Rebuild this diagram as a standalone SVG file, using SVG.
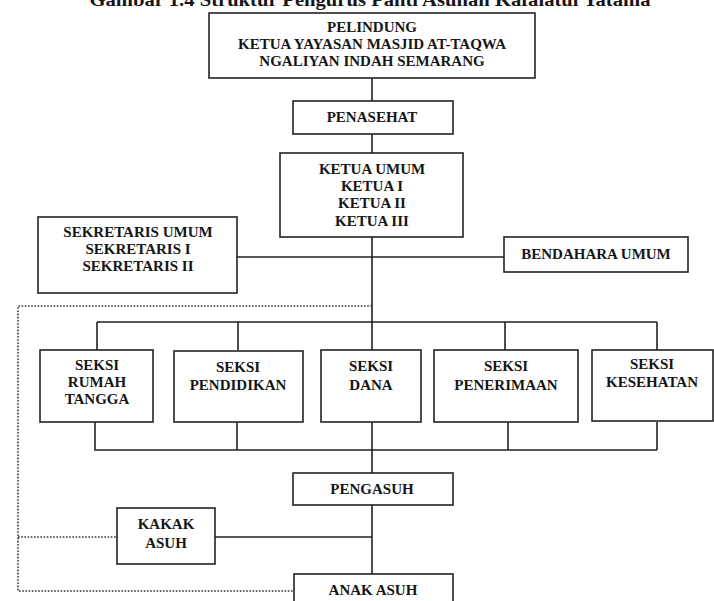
<svg xmlns="http://www.w3.org/2000/svg" width="714" height="601" viewBox="0 0 714 601">
<style>
.box{fill:#fff;stroke:#222;stroke-width:1.6}
.ln{fill:none;stroke:#222;stroke-width:1.6}
.dot{fill:none;stroke:#333;stroke-width:1.6;stroke-dasharray:1.6 1.6}
text{font-family:"Liberation Serif","Times New Roman",serif;font-weight:bold;font-size:15px;fill:#151515;text-anchor:middle;dominant-baseline:central}
.title{font-size:18px;dominant-baseline:auto}
</style>
<rect width="714" height="601" fill="#fff"/>
<text class="title" x="370" y="6" textLength="561" lengthAdjust="spacingAndGlyphs">Gambar 1.4 Struktur Pengurus Panti Asuhan Kafalatul Yatama</text>
<g id="connectors">
<path class="ln" d="M372 78V101M372 134V153M372 237V574M237 257H504M97 322H657M97 322V350M238 322V350M505 322V350M657 322V350M95 422V450H657M237 422V450M508 422V450M657 422V450M215 537H372"/>
<path class="dot" d="M372 306H18V591H294M18 537H117"/>
</g>
<g id="pelindung"><rect class="box" x="209" y="13" width="326" height="65"/><text x="372" y="27">PELINDUNG</text><text x="372" y="44">KETUA YAYASAN MASJID AT-TAQWA</text><text x="372" y="61">NGALIYAN INDAH SEMARANG</text></g>
<g id="penasehat"><rect class="box" x="293" y="101" width="160" height="33"/><text x="372" y="117">PENASEHAT</text></g>
<g id="ketua"><rect class="box" x="280" y="153" width="183" height="84"/><text x="372" y="169">KETUA UMUM</text><text x="372" y="186">KETUA I</text><text x="372" y="203">KETUA II</text><text x="372" y="221">KETUA III</text></g>
<g id="sekretaris"><rect class="box" x="38" y="217" width="199" height="76"/><text x="138" y="232">SEKRETARIS UMUM</text><text x="138" y="249">SEKRETARIS I</text><text x="138" y="266">SEKRETARIS II</text></g>
<g id="bendahara"><rect class="box" x="504" y="237" width="184" height="35"/><text x="596" y="254">BENDAHARA UMUM</text></g>
<g id="seksi-rumah-tangga"><rect class="box" x="40" y="350" width="113" height="72"/><text x="97" y="365">SEKSI</text><text x="97" y="382">RUMAH</text><text x="97" y="399">TANGGA</text></g>
<g id="seksi-pendidikan"><rect class="box" x="174" y="351" width="129" height="71"/><text x="238" y="367">SEKSI</text><text x="238" y="385">PENDIDIKAN</text></g>
<g id="seksi-dana"><rect class="box" x="321" y="350" width="100" height="72"/><text x="371" y="366">SEKSI</text><text x="371" y="385">DANA</text></g>
<g id="seksi-penerimaan"><rect class="box" x="434" y="350" width="144" height="72"/><text x="506" y="366">SEKSI</text><text x="506" y="385">PENERIMAAN</text></g>
<g id="seksi-kesehatan"><rect class="box" x="592" y="350" width="121" height="71"/><text x="652" y="364">SEKSI</text><text x="652" y="382">KESEHATAN</text></g>
<g id="pengasuh"><rect class="box" x="293" y="473" width="160" height="32"/><text x="372" y="489">PENGASUH</text></g>
<g id="kakak-asuh"><rect class="box" x="117" y="508" width="98" height="56"/><text x="166" y="524">KAKAK</text><text x="166" y="543">ASUH</text></g>
<g id="anak-asuh"><rect class="box" x="294" y="574" width="159" height="40"/><text x="373" y="590">ANAK ASUH</text></g>
</svg>
